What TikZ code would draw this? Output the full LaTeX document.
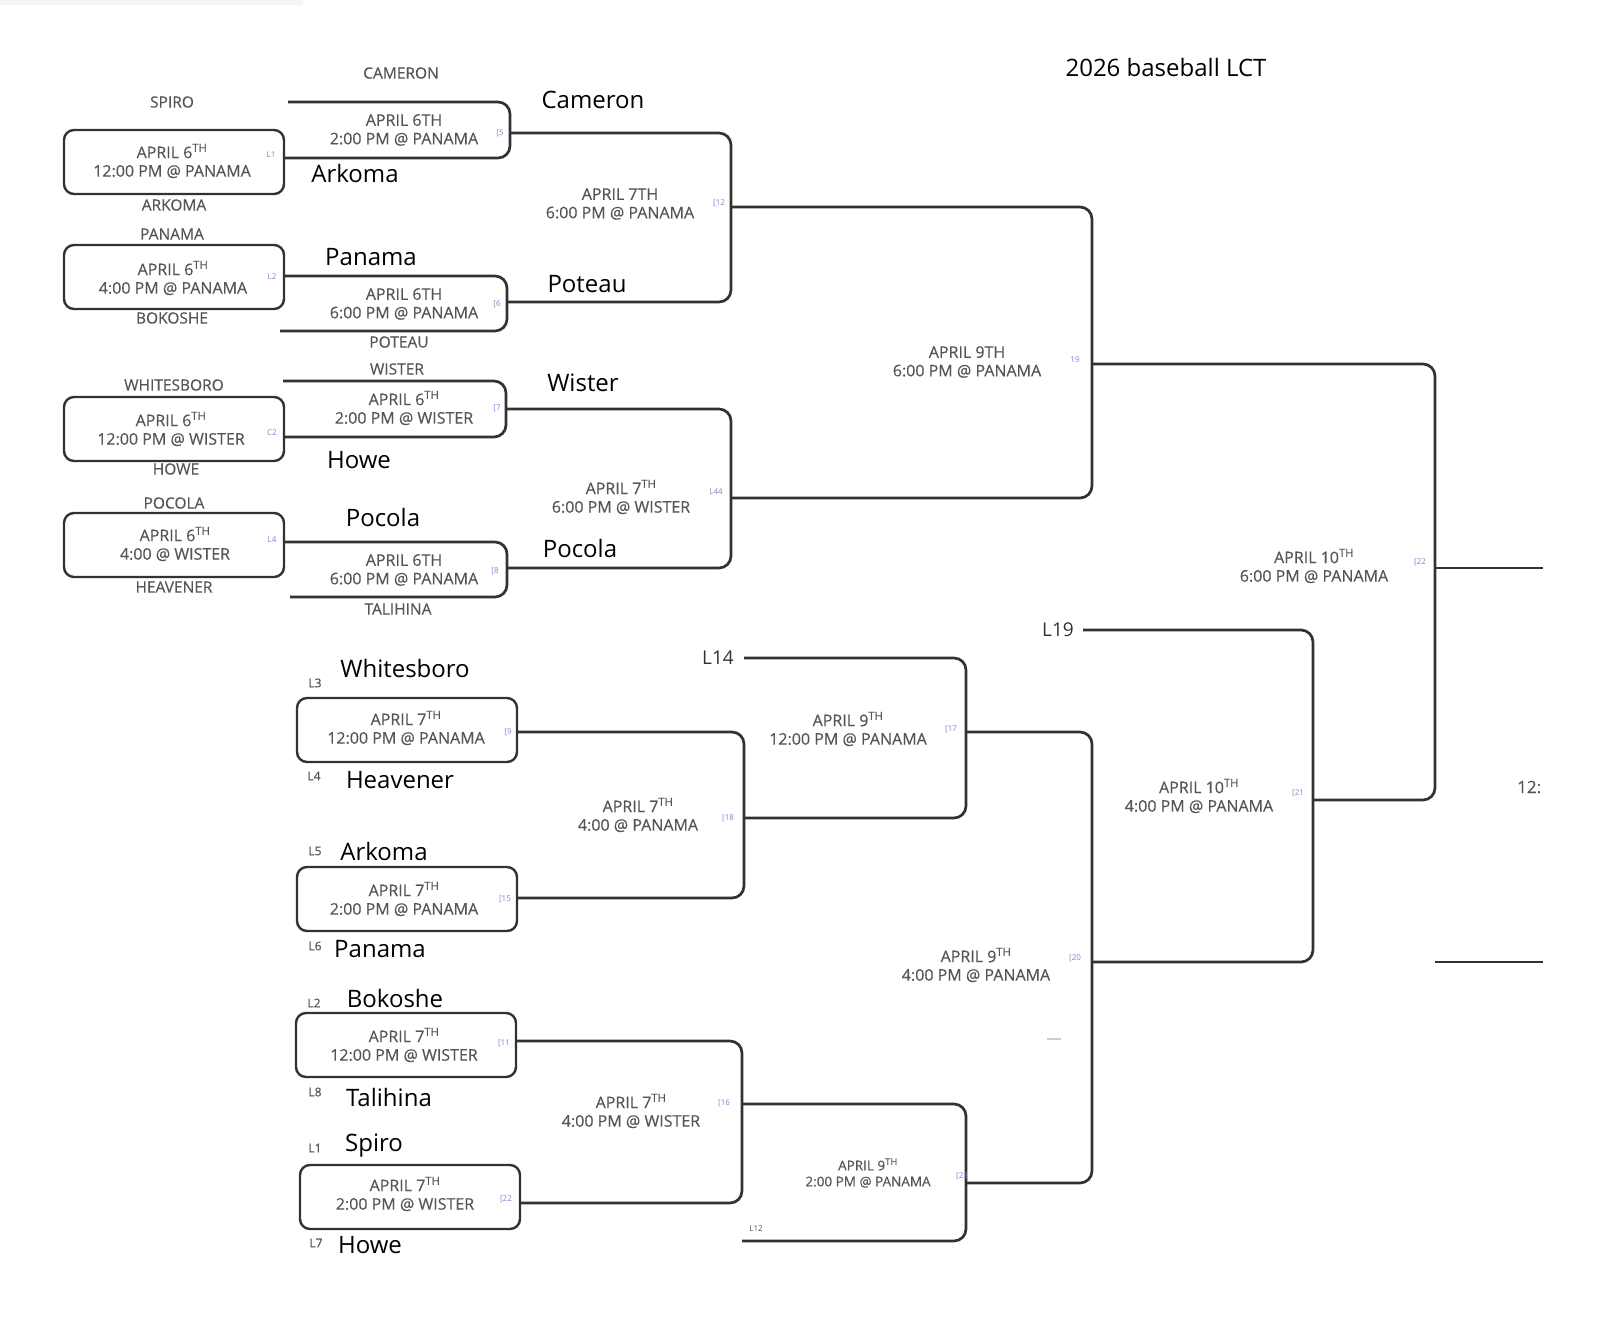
\documentclass[tikz,border=0pt]{standalone}
\usepackage{fontspec}
\setmainfont{Open Sans}
\newfontfamily\semib[FakeBold=0.35]{Open Sans}
\definecolor{ink}{RGB}{50,50,50}
\definecolor{txt}{RGB}{85,85,85}
\definecolor{tagc}{RGB}{135,125,210}
\newcommand\supTH{\textsuperscript{TH}}
\begin{document}
\begin{tikzpicture}[x=1pt,y=-1pt,
  conn/.style={draw=ink,line width=2.7pt,rounded corners=12pt},
  straight/.style={draw=ink,line width=2.7pt},
  gamebox/.style={draw=ink,line width=2.4pt,rounded corners=10pt,minimum width=220pt,minimum height=64pt,inner sep=0pt},
  gtext/.style={text=txt,font=\semib\fontsize{16}{18.5}\selectfont,align=center,inner sep=0pt},
  stext/.style={text=txt,font=\semib\fontsize{13.5}{16}\selectfont,align=center,inner sep=0pt},
  tlabel/.style={text=txt,font=\semib\fontsize{15.5}{17}\selectfont,inner sep=0pt},
  big/.style={text=black,font=\fontsize{24}{28}\selectfont,inner sep=0pt},
  tagl/.style={text=tagc,font=\fontsize{8}{9}\selectfont,inner sep=0pt},
  lnum/.style={text=txt,font=\semib\fontsize{12}{13}\selectfont,inner sep=0pt},
  lbig/.style={text=ink,font=\fontsize{19}{22}\selectfont,inner sep=0pt}]
\useasboundingbox (0,0) rectangle (1600,1317);
\fill[gray!8] (0,0) rectangle (303,5);

% title
\node[big] (title) at (1166,67) {2026 baseball LCT};

% first-round boxes
\node[gamebox] (b1) at (174,162) {};
\node[gamebox] (b2) at (174,277) {};
\node[gamebox] (b3) at (174,429) {};
\node[gamebox] (b4) at (174,545) {};
% consolation boxes
\node[gamebox] (b9) at (407,730) {};
\node[gamebox] (b15) at (407,899) {};
\node[gamebox] (b11) at (406,1045) {};
\node[gamebox] (b22) at (410,1197) {};

% brackets (winners side)
\draw[conn] (288,102) -- (510,102) -- (510,158) -- (284,158);
\draw[conn] (284,276) -- (507,276) -- (507,331) -- (280,331);
\draw[conn] (283,381) -- (506,381) -- (506,437) -- (284,437);
\draw[conn] (284,542) -- (507,542) -- (507,597) -- (290,597);
\draw[conn] (510,133) -- (731,133) -- (731,302) -- (507,302);
\draw[conn] (507,409) -- (731,409) -- (731,568) -- (507,568);
\draw[conn] (731,207) -- (1092,207) -- (1092,498) -- (731,498);
\draw[conn] (1092,364) -- (1435,364) -- (1435,800) -- (1313,800);
\draw[straight] (1435,568) -- (1543,568);
\draw[straight] (1435,962) -- (1543,962);
% brackets (consolation side)
\draw[conn] (1083,630) -- (1313,630) -- (1313,962) -- (1092,962);
\draw[conn] (744,658) -- (966,658) -- (966,818) -- (744,818);
\draw[conn] (966,732) -- (1092,732) -- (1092,1183) -- (966,1183);
\draw[conn] (516,732) -- (744,732) -- (744,898) -- (516,898);
\draw[conn] (515,1041) -- (742,1041) -- (742,1203) -- (520,1203);
\draw[conn] (742,1104) -- (966,1104) -- (966,1241) -- (742,1241);
\draw[gray!40,line width=1.2pt] (1047,1039) -- (1061,1039);

% game texts
\node[gtext] (t1) at (172,161) {APRIL 6\supTH\\12:00 PM @ PANAMA};
\node[gtext] (t2) at (173,278) {APRIL 6\supTH\\4:00 PM @ PANAMA};
\node[gtext] (t3) at (171,429) {APRIL 6\supTH\\12:00 PM @ WISTER};
\node[gtext] (t4) at (175,544) {APRIL 6\supTH\\4:00 @ WISTER};
\node[gtext] (t5) at (404,130) {APRIL 6TH\\2:00 PM @ PANAMA};
\node[gtext] (t6) at (404,304) {APRIL 6TH\\6:00 PM @ PANAMA};
\node[gtext] (t7) at (404,408) {APRIL 6\supTH\\2:00 PM @ WISTER};
\node[gtext] (t8) at (404,570) {APRIL 6TH\\6:00 PM @ PANAMA};
\node[gtext] (t12) at (620,204) {APRIL 7TH\\6:00 PM @ PANAMA};
\node[gtext] (t14) at (621,497) {APRIL 7\supTH\\6:00 PM @ WISTER};
\node[gtext] (t19) at (967,362) {APRIL 9TH\\6:00 PM @ PANAMA};
\node[gtext] (t22) at (1314,566) {APRIL 10\supTH\\6:00 PM @ PANAMA};
\node[gtext] (t21) at (1199,796) {APRIL 10\supTH\\4:00 PM @ PANAMA};
\node[gtext] (t17) at (848,729) {APRIL 9\supTH\\12:00 PM @ PANAMA};
\node[gtext] (t20) at (976,965) {APRIL 9\supTH\\4:00 PM @ PANAMA};
\node[gtext] (t18) at (638,815) {APRIL 7\supTH\\4:00 @ PANAMA};
\node[gtext] (t16) at (631,1111) {APRIL 7\supTH\\4:00 PM @ WISTER};
\node[stext] (t23) at (868,1173) {APRIL 9\supTH\\2:00 PM @ PANAMA};
\node[gtext] (t9) at (406,728) {APRIL 7\supTH\\12:00 PM @ PANAMA};
\node[gtext] (t15) at (404,899) {APRIL 7\supTH\\2:00 PM @ PANAMA};
\node[gtext] (t11) at (404,1045) {APRIL 7\supTH\\12:00 PM @ WISTER};
\node[gtext] (t22b) at (405,1194) {APRIL 7\supTH\\2:00 PM @ WISTER};
\begin{scope}
\clip (0,0) rectangle (1543,1317);
\node[gtext,font=\semib\fontsize{17}{20}\selectfont,anchor=west] (cut) at (1517,787) {12:};
\end{scope}

% purple tags
\node[tagl] at (271,155) {L1};
\node[tagl] at (272,277) {L2};
\node[tagl] at (272,433) {C2};
\node[tagl] at (272,540) {L4};
\node[tagl] at (500,133) {[5};
\node[tagl] at (497,304) {[6};
\node[tagl] at (497,408) {[7};
\node[tagl] at (495,571) {[8};
\node[tagl] at (719,203) {[12};
\node[tagl] at (1075,360) {19};
\node[tagl] at (716,492) {L44};
\node[tagl] at (1420,562) {[22};
\node[tagl] at (1298,793) {[21};
\node[tagl] at (1075,958) {[20};
\node[tagl] at (951,729) {[17};
\node[tagl] at (728,818) {[18};
\node[tagl] at (508,732) {[9};
\node[tagl] at (505,899) {[15};
\node[tagl] at (504,1043) {[11};
\node[tagl] at (724,1103) {[16};
\node[tagl] at (506,1199) {[22};
\node[tagl] at (962,1176) {[23};

% gray team labels
\node[tlabel] (n1) at (172,102) {SPIRO};
\node[tlabel] (n2) at (401,73) {CAMERON};
\node[tlabel] (n3) at (174,205) {ARKOMA};
\node[tlabel] (n4) at (172,234) {PANAMA};
\node[tlabel] (n5) at (172,318) {BOKOSHE};
\node[tlabel] (n6) at (399,342) {POTEAU};
\node[tlabel] (n7) at (397,369) {WISTER};
\node[tlabel] (n8) at (174,385) {WHITESBORO};
\node[tlabel] (n9) at (176,469) {HOWE};
\node[tlabel] (n10) at (174,503) {POCOLA};
\node[tlabel] (n11) at (174,587) {HEAVENER};
\node[tlabel] (n12) at (398,609) {TALIHINA};

% big team names
\node[big] at (593,100) {Cameron};
\node[big] at (355,173) {Arkoma};
\node[big] at (371,257) {Panama};
\node[big] at (587,284) {Poteau};
\node[big] at (583,383) {Wister};
\node[big] at (359,460) {Howe};
\node[big] at (383,517) {Pocola};
\node[big] at (580,548) {Pocola};
\node[big] at (405,668) {Whitesboro};
\node[big] at (400,780) {Heavener};
\node[big] at (384,851) {Arkoma};
\node[big] at (380,949) {Panama};
\node[big] at (395,998) {Bokoshe};
\node[big] at (389,1097) {Talihina};
\node[big] at (374,1146) {Spiro};
\node[big] at (370,1245) {Howe};

% loser labels
\node[lnum] at (315,683) {L3};
\node[lnum] at (314,776) {L4};
\node[lnum] at (315,851) {L5};
\node[lnum] at (315,946) {L6};
\node[lnum] at (314,1003) {L2};
\node[lnum] at (315,1092) {L8};
\node[lnum] at (315,1148) {L1};
\node[lnum] at (316,1243) {L7};
\node[tagl,text=txt] at (756,1229) {L12};
\node[lbig] at (718,658) {L14};
\node[lbig] at (1058,630) {L19};
\end{tikzpicture}
\end{document}
